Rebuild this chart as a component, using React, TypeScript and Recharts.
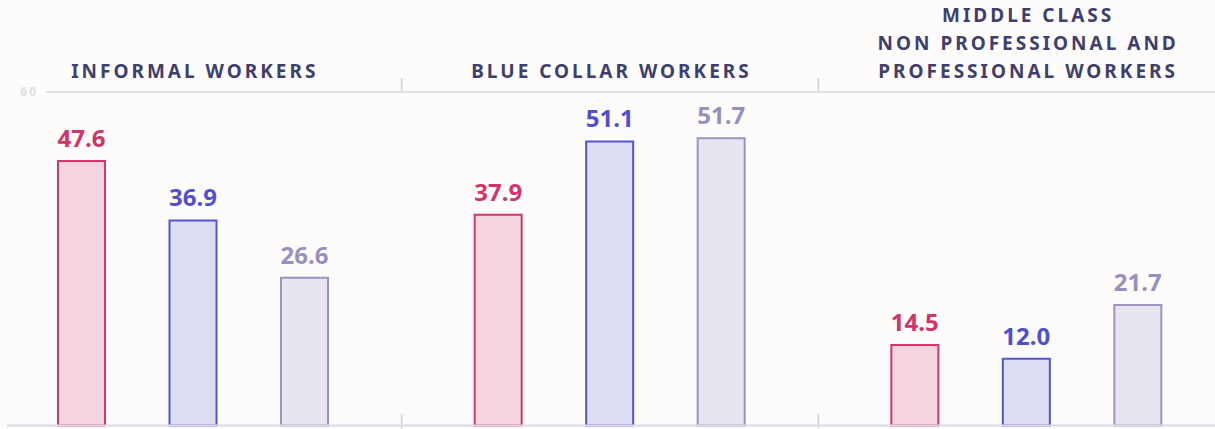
import { BarChart, Bar, XAxis, YAxis, LabelList, ReferenceLine, ReferenceArea } from "recharts";

const groups = [
  "INFORMAL WORKERS",
  "BLUE COLLAR WORKERS",
  "MIDDLE CLASS\nNON PROFESSIONAL AND\nPROFESSIONAL WORKERS",
];
const first = [47.6, 37.9, 14.5];
const second = [36.9, 51.1, 12.0];
const third = [26.6, 51.7, 21.7];
const yTicks = [60];

const data = groups.map((group, i) => ({
  group,
  first: first[i],
  second: second[i],
  third: third[i],
}));

const series = [
  { key: "first", fill: "#f5d5e0", stroke: "#d4356a", text: "#d2336a" },
  { key: "second", fill: "#dcdcf3", stroke: "#5454d2", text: "#4f4fcf" },
  { key: "third", fill: "#e8e5f1", stroke: "#9d92c1", text: "#998fbf" },
];

const FONT = "'Noto Sans', 'Open Sans', sans-serif";

function GroupTick(props: any) {
  const { x, y, payload } = props;
  const lines = String(payload.value).split("\n");
  const base = y - 14;
  return (
    <g>
      {lines.map((line, i) => (
        <text
          key={i}
          x={x + 1.5}
          y={base - (lines.length - 1 - i) * 28}
          textAnchor="middle"
          fill="#3e3f6f"
          fontFamily={FONT}
          fontWeight={700}
          fontSize={19}
          letterSpacing={3}
        >
          {line}
        </text>
      ))}
    </g>
  );
}

function ValueTick(props: any) {
  const { y, payload } = props;
  return (
    <text
      x={113}
      y={y + 4}
      textAnchor="end"
      fill="#e2e0df"
      fontFamily={FONT}
      fontWeight={700}
      fontSize={12}
      letterSpacing={2}
    >
      {payload.value}
    </text>
  );
}

// draws only the two side edges of the middle group's band
function Dividers(props: any) {
  const { x, y, width, height } = props;
  return (
    <g stroke="#dddbd9" strokeWidth={2}>
      <line x1={x} y1={y} x2={x} y2={y + height} />
      <line x1={x + width} y1={y} x2={x + width} y2={y + height} />
    </g>
  );
}

export default function App() {
  return (
    <div
      style={{
        position: "fixed",
        left: 0,
        top: 0,
        width: 1215,
        height: 429,
        overflow: "hidden",
        background: "#fdfcfb",
      }}
    >
      <BarChart
        width={1310}
        height={429}
        data={data}
        margin={{ top: 0, right: 0, bottom: 3.5, left: 0 }}
        barGap={64.5}
        style={{ position: "absolute", left: -75, top: 0 }}
      >
        <XAxis
          dataKey="group"
          orientation="top"
          height={92}
          axisLine={false}
          tickLine={false}
          tickSize={0}
          tickMargin={0}
          interval={0}
          tick={<GroupTick />}
        />
        <YAxis
          domain={[0, 60]}
          ticks={yTicks}
          width={60}
          axisLine={false}
          tickLine={false}
          tick={<ValueTick />}
        />
        <ReferenceLine
          y={60}
          shape={(p: any) => (
            <line x1={p.x1 + 61} y1={p.y1} x2={p.x2 - 20} y2={p.y2} stroke="#e3e1df" strokeWidth={2} />
          )}
        />
        {series.map((s) => (
          <Bar
            key={s.key}
            dataKey={s.key}
            fill={s.fill}
            stroke={s.stroke}
            strokeWidth={2}
            barSize={47}
            isAnimationActive={false}
          >
            <LabelList
              dataKey={s.key}
              position="top"
              offset={14}
              formatter={(v: any) => Number(v).toFixed(1)}
              fill={s.text}
              fontFamily={FONT}
              fontWeight={700}
              fontSize={24}
            />
          </Bar>
        ))}
        <ReferenceLine
          y={0}
          ifOverflow="visible"
          shape={(p: any) => (
            <line x1={p.x1 + 22} y1={p.y1} x2={p.x2 - 20} y2={p.y2} stroke="#dcd9e6" strokeWidth={2} />
          )}
        />
        <ReferenceArea
          x1={groups[1]}
          x2={groups[1]}
          y1={60}
          y2={62.5}
          ifOverflow="visible"
          shape={<Dividers />}
        />
        <ReferenceArea
          x1={groups[1]}
          x2={groups[1]}
          y1={-0.7}
          y2={2.07}
          ifOverflow="visible"
          shape={<Dividers />}
        />
      </BarChart>
    </div>
  );
}
